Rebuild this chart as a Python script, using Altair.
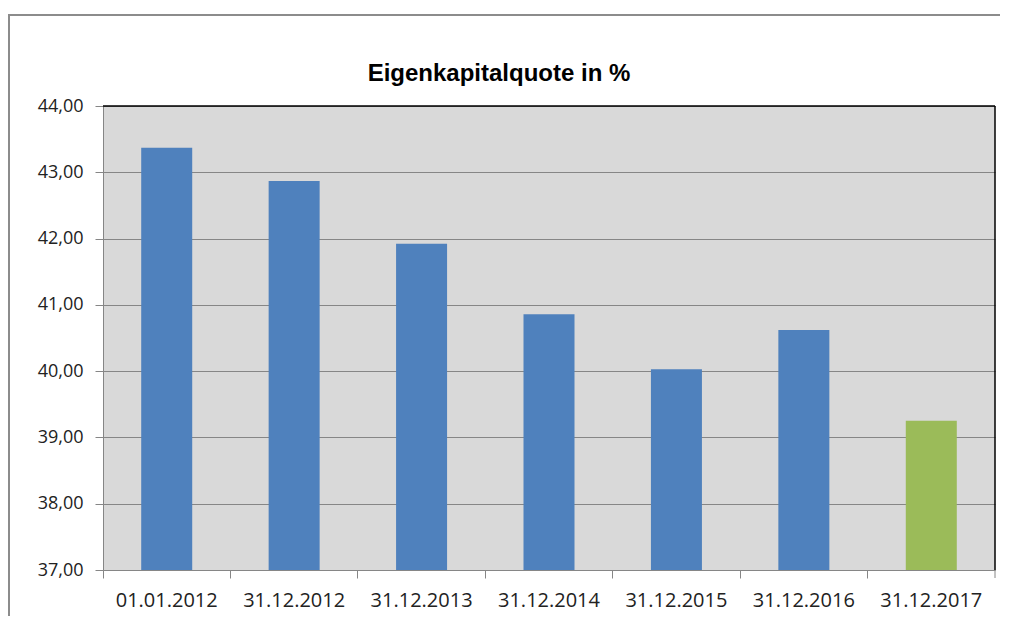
import altair as alt
import pandas as pd

categories = ["01.01.2012", "31.12.2012", "31.12.2013", "31.12.2014", "31.12.2015", "31.12.2016", "31.12.2017"]
values = [43.37, 42.87, 41.92, 40.86, 40.03, 40.62, 39.25]
colors = ["#4F81BD", "#4F81BD", "#4F81BD", "#4F81BD", "#4F81BD", "#4F81BD", "#9BBB59"]
title_text = "Eigenkapitalquote in %"

df = pd.DataFrame({"cat": categories, "val": values, "col": colors})

W, H = 892, 464

x = alt.X("cat:N", sort=categories, title=None,
          scale=alt.Scale(paddingInner=0, paddingOuter=0),
          axis=alt.Axis(labelAngle=0, labelFont="Open Sans", labelFontSize=20, labelColor="#222",
                        labelPadding=12, tickSize=8, tickColor="#868686", domainColor="#868686",
                        bandPosition=0, grid=False))
y = alt.Y("val:Q", title=None,
          scale=alt.Scale(domain=[37, 44], nice=False, zero=False),
          axis=alt.Axis(values=[37, 38, 39, 40, 41, 42, 43, 44],
                        labelExpr="replace(format(datum.value, '.2f'), '.', ',')",
                        labelFont="Open Sans", labelFontSize=18, labelColor="#222",
                        labelPadding=12, tickSize=8, tickColor="#868686", domainColor="#868686",
                        gridColor="#868686", gridWidth=1))

bars = alt.Chart(df).mark_bar(size=51, clip=True).encode(
    x=x, y=y, color=alt.Color("col:N", scale=None)
)

borders = alt.Chart(pd.DataFrame({"a": [0]})).mark_rule(color="black", strokeWidth=1.5).encode(
    x=alt.value(0), x2=alt.value(W), y=alt.value(0)
) + alt.Chart(pd.DataFrame({"a": [0]})).mark_rule(color="black", strokeWidth=1.5).encode(
    x=alt.value(W), y=alt.value(0), y2=alt.value(H)
) + alt.Chart(pd.DataFrame({"a": [0]})).mark_rule(color="#868686").encode(
    x=alt.value(W), y=alt.value(H), y2=alt.value(H + 8)
)

frame = alt.Chart(pd.DataFrame({"a": [0]})).mark_rect(fill=None, stroke="#8c8c8c", strokeWidth=2).encode(
    x=alt.value(-94), x2=alt.value(1100), y=alt.value(-91), y2=alt.value(700)
)

title = alt.Chart(pd.DataFrame({"t": [title_text]})).mark_text(
    font="Liberation Sans", fontSize=24, fontWeight="bold", color="black", align="center", baseline="middle"
).encode(text="t:N", x=alt.value(396), y=alt.value(-32))

chart = alt.layer(bars, borders, frame, title).properties(
    width=W, height=H,
    padding={"left": 95, "top": 98, "right": 5, "bottom": 46},
    autosize=alt.AutoSizeParams(type="none"),
    background="white",
).configure_view(fill="#D9D9D9", stroke=None)

chart.save("out.html", embed_options={"renderer": "svg", "actions": False})
